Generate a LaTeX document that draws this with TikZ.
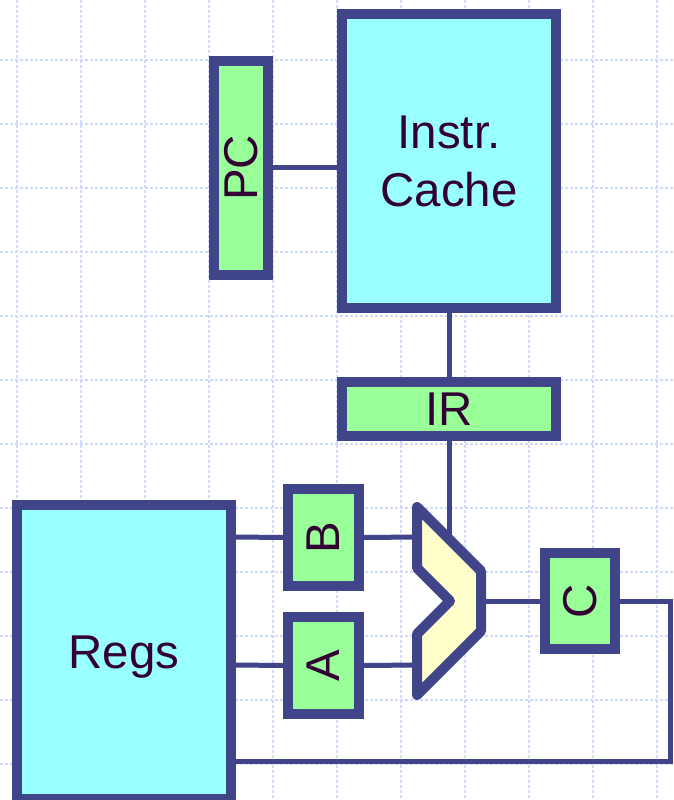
\documentclass[tikz,border=0pt]{standalone}
\usepackage{fontspec}
\setmainfont{Liberation Sans}
\usetikzlibrary{calc,positioning}
\definecolor{dpline}{RGB}{64,68,136}
\definecolor{dpcache}{RGB}{153,255,255}
\definecolor{dpreg}{RGB}{153,255,153}
\definecolor{dpalu}{RGB}{255,255,204}
\definecolor{dptext}{RGB}{51,0,51}
\definecolor{dpgrid}{RGB}{208,218,252}
\tikzset{
  blk/.style={draw=dpline, line width=0.2cm, rectangle, inner sep=0pt,
              text=dptext, font=\fontsize{27}{33}\selectfont, align=center},
  mem/.style={blk, fill=dpcache},
  latch/.style={blk, fill=dpreg},
  vlatch/.style={latch, rotate=90},
  wire/.style={draw=dpline, line width=0.1cm},
  gridline/.style={draw=dpgrid, line width=0.03cm, dash pattern=on 0.06cm off 0.04cm},
}

\begin{document}
\begin{tikzpicture}[x=0.02cm, y=-0.02cm]
\useasboundingbox (0,0) rectangle (673,800);
% background grid
\foreach \gx in {17,81,...,657}
  \draw[gridline] (\gx,0) -- (\gx,800);
\foreach \gy in {60,124,...,764}
  \draw[gridline] (0,\gy) -- (673,\gy);
% storage blocks
\node[mem, minimum width=4.28cm, minimum height=5.88cm] (cache) at (449,161) {Instr.\\Cache};
\node[mem, minimum width=4.28cm, minimum height=5.9cm, text depth=0pt] (regs) at (124,652) {Regs};
% pipeline latches
\node[vlatch, minimum width=4.28cm, minimum height=1.08cm] (pc) at (241,168) {PC};
\node[latch, minimum width=4.28cm, minimum height=1.08cm] (ir) at (449,409) {IR};
\node[vlatch, minimum width=1.94cm, minimum height=1.42cm] (latchB) at (323.5,537.5) {B};
\node[vlatch, minimum width=1.94cm, minimum height=1.42cm] (latchA) at (323.5,665.5) {A};
\node[vlatch, minimum width=1.92cm, minimum height=1.4cm] (latchC) at (580,601) {C};
% ALU ports
\coordinate (aluB) at (417,537);
\coordinate (aluA) at (417,665);
\coordinate (aluOp) at (449,539);
\coordinate (aluOut) at (481,601);
\coordinate (wbR) at (670,601);
\coordinate (wbB) at (670,761);
% connectors
\draw[wire] (pc.south) -- (pc.south -| cache.west);
\draw[wire] (cache.south) -- (ir.north);
\draw[wire] (ir.south) -- (aluOp);
\draw[wire] (regs.east |- aluB) -- (latchB.north);
\draw[wire] (latchB.south) -- (aluB);
\draw[wire] (regs.east |- aluA) -- (latchA.north);
\draw[wire] (latchA.south) -- (aluA);
\draw[wire] (aluOut) -- (latchC.north);
\draw[wire] (latchC.south) -- (wbR) -- (wbB) -- (regs.east |- wbB);
% ALU
\draw[draw=dpline, fill=dpalu, line width=0.2cm, line join=round]
  (417,507) -- (481,571) -- (481,631) -- (417,695) -- (417,634)
  -- (450,601) -- (417,568) -- cycle;
\end{tikzpicture}
\end{document}
